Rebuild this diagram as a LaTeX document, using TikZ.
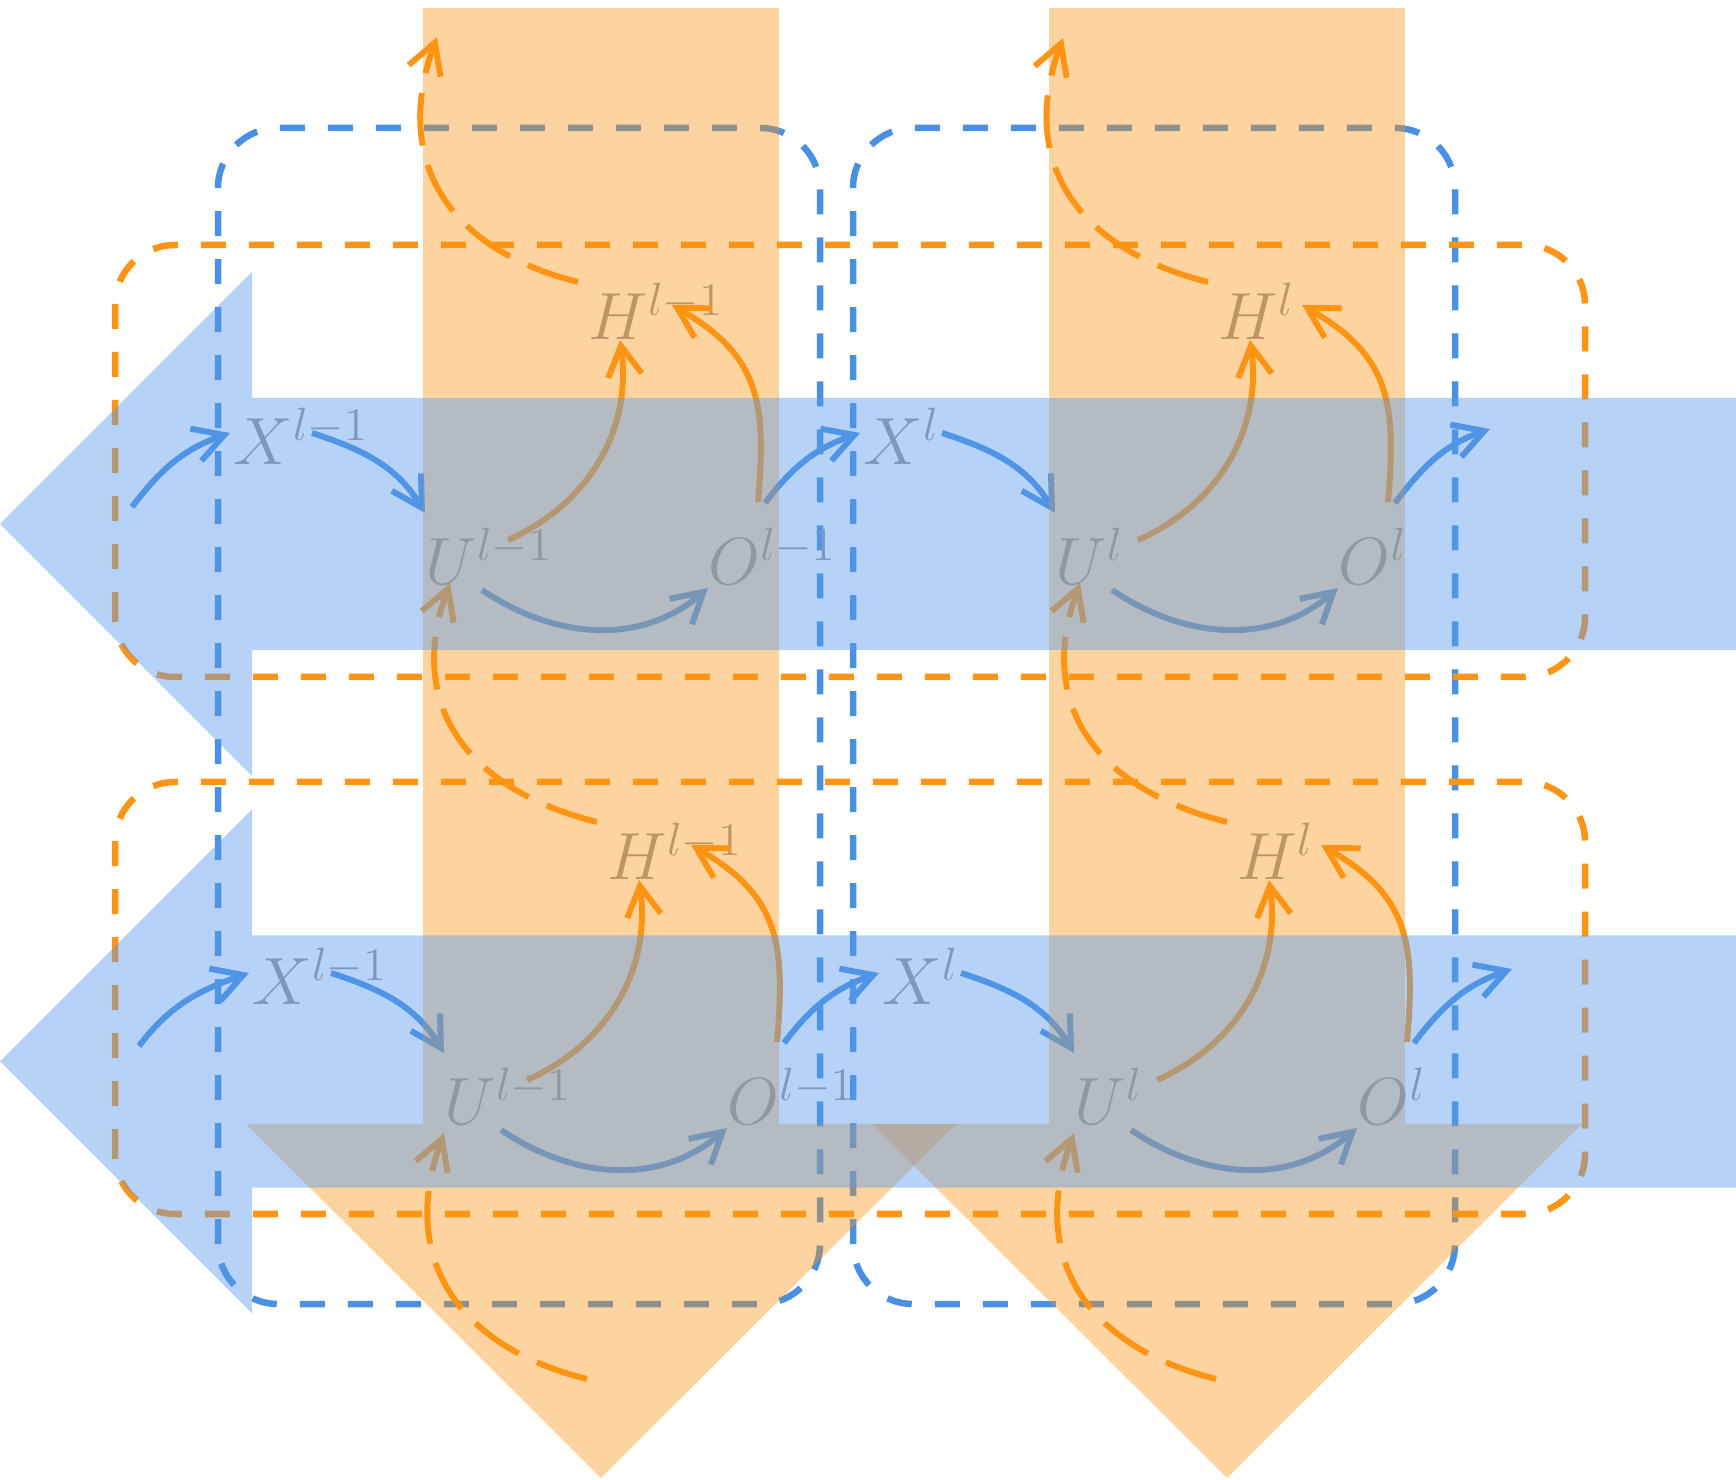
\RequirePackage{fix-cm}
\documentclass[tikz,border=0pt]{standalone}
\usetikzlibrary{arrows.meta}
\definecolor{flowblue}{RGB}{74,144,226}
\definecolor{floworange}{RGB}{255,148,22}
\definecolor{bandblue}{RGB}{89,155,237}
\definecolor{bandorange}{RGB}{250,148,18}
\definecolor{labelgray}{RGB}{150,150,155}
\tikzset{
  lbl/.style={
    anchor=base west,
    inner sep=0pt,
    text=labelgray,
    font=\fontsize{19}{22}\selectfont
  },
  barb/.style={-{Straight Barb[length=3mm,width=3.4mm]},line width=1.7pt},
  bluearr/.style={barb,flowblue},
  orangearr/.style={barb,floworange},
  orangedash/.style={barb,floworange,dash pattern=on 5.3mm off 2mm},
  boxline/.style={line width=1.85pt,dash pattern=on 2.5mm off 2.3mm,rounded corners=6mm},
  colbox/.style={boxline,draw=flowblue},
  rowbox/.style={boxline,draw=floworange},
  hband/.style={fill=bandblue,fill opacity=0.44},
  vband/.style={fill=bandorange,fill opacity=0.4}
}

\begin{document}
\begin{tikzpicture}[x=0.1mm,y=0.1mm]
  \useasboundingbox (0,0) rectangle (1736,1479);

  % dashed groups
  \foreach \c in {0,1}
    \draw[colbox,shift={(635*\c,0)}] (218,175) rectangle (820,1351);
  \foreach \r in {0,1}
    \draw[rowbox,shift={(0,-537*\r)}] (115,802) rectangle (1585,1234);

  % labels, one cell per layer and step
  \foreach \r in {0,1}
    \foreach \c/\lay in {0/{l-1},1/l}
    {
      \begin{scope}[shift={(630*\c+19*\r,-540*\r)}]
        \node[lbl] (X\r\c) at (233,1014) {$X^{\lay}$};
        \node[lbl] (U\r\c) at (425,894) {$U^{\lay}$};
        \node[lbl] (H\r\c) at (588,1139) {$H^{\lay}$};
        \node[lbl] (O\r\c) at (708,894) {$O^{\lay}$};
      \end{scope}
    }

  % free ends
  \coordinate (entry0) at (132,972);
  \coordinate (entry1) at (139,433);
  \coordinate (exit0) at (1490,1050);
  \coordinate (exit1) at (1512,510);
  \coordinate (top0) at (437,1442);
  \coordinate (top1) at (1063,1441);
  \coordinate (bottom0) at (587,100);
  \coordinate (bottom1) at (1216,100);

  % inside each cell
  \foreach \r in {0,1}
    \foreach \c in {0,1}
    {
      \draw[bluearr] ([shift={(79,32)}]X\r\c.base west) to[out=-18,in=121] ([shift={(0,72)}]U\r\c.base west);
      \draw[bluearr] ([shift={(57,-5)}]U\r\c.base west) to[out=-34,in=-139] ([shift={(0,-3)}]O\r\c.base west);
      \draw[orangearr] ([shift={(83,45)}]U\r\c.base west) to[out=24,in=-82] ([shift={(32,0)}]H\r\c.base west);
      \draw[orangearr] ([shift={(50,83)}]O\r\c.base west) to[out=85,in=-30,looseness=1.2] ([shift={(84,35)}]H\r\c.base west);
    }

  % along the rows
  \foreach \r in {0,1}
  {
    \draw[bluearr] (entry\r) to[out=53,in=-161] ([shift={(-3,32)}]X\r0.base west);
    \draw[bluearr] ([shift={(57,82)}]O\r0.base west) to[out=53,in=-161] ([shift={(-3,32)}]X\r1.base west);
    \draw[bluearr] ([shift={(57,82)}]O\r1.base west) to[out=53,in=-161] (exit\r);
  }

  % along the columns
  \foreach \c in {0,1}
  {
    \draw[orangedash] ([shift={(-10,58)}]H0\c.base west) to[out=166,in=-110,looseness=1.2] (top\c);
    \draw[orangedash] ([shift={(-10,58)}]H1\c.base west) to[out=166,in=-110,looseness=1.2] ([shift={(25,2)}]U0\c.base west);
    \draw[orangedash] (bottom\c) to[out=166,in=-110,looseness=1.2] ([shift={(0,-8)}]U1\c.base west);
  }

  % translucent flow arrows on top
  \foreach \c in {0,1}
    \fill[vband,shift={(626*\c,0)}] (423,1471) -- (779,1471) -- (779,355) -- (956,355)
      -- (601,1) -- (246,355) -- (423,355) -- cycle;
  \foreach \r in {0,1}
    \fill[hband,shift={(0,-537.5*\r)}] (1736,1081) -- (252,1081) -- (252,1207) -- (0,955)
      -- (252,703) -- (252,829) -- (1736,829) -- cycle;
\end{tikzpicture}
\end{document}
